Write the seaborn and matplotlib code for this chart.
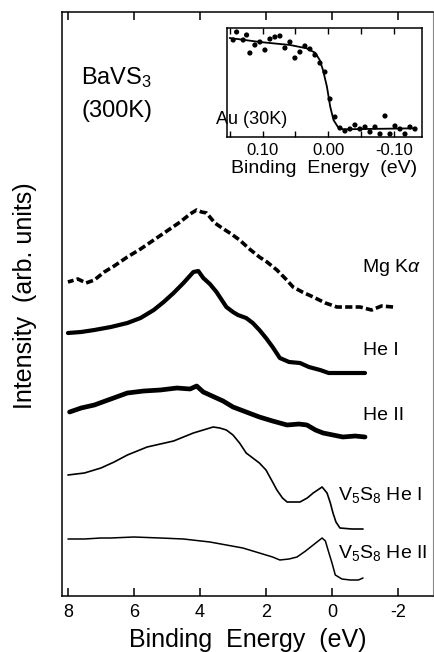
import numpy as np
import pandas as pd
import seaborn as sns
import matplotlib.pyplot as plt

sns.set_style("ticks")
plt.rcParams['font.family'] = ['Liberation Sans', 'DejaVu Sans']
plt.rcParams['mathtext.fontset'] = 'custom'
plt.rcParams['mathtext.rm'] = 'Liberation Sans'
plt.rcParams['mathtext.it'] = 'Liberation Sans:italic'
plt.rcParams['text.color'] = 'black'
plt.rcParams['axes.labelcolor'] = 'black'
plt.rcParams['xtick.color'] = 'black'
plt.rcParams['axes.edgecolor'] = 'black'

# spectra: binding energy (eV) and intensity (arb. units, offsets included)
mg_E = [8.0, 7.7, 7.45, 7.2, 6.9, 6.6, 6.2, 5.8, 5.4, 5.0, 4.6, 4.3, 4.1, 3.95, 3.8, 3.55,
        3.33, 3.05, 2.8, 2.5, 2.2, 1.97, 1.67, 1.4, 1.18, 0.9, 0.57, 0.2, -0.15, -0.5, -0.85,
        -1.2, -1.5, -1.85]
mg_I = [314, 317, 313, 316, 324, 330, 339, 347, 356, 365, 374, 382, 386, 384, 383, 373,
        368, 362, 356, 347, 339, 334, 326, 317, 309, 304, 299, 293, 289, 289, 289,
        286, 290, 289]

he1_E = [8.0, 7.6, 7.2, 6.7, 6.2, 5.8, 5.4, 5.1, 4.8, 4.5, 4.2, 4.05, 3.9, 3.7, 3.5, 3.2,
         3.0, 2.85, 2.6, 2.4, 2.2, 2.0, 1.8, 1.58, 1.3, 0.97, 0.7, 0.36, 0.1, -0.3, -0.65, -1.0]
he1_I = [263, 264, 266, 269, 273, 278, 286, 294, 303, 313, 324, 325, 318, 312, 304, 289,
         284, 281, 278, 273, 266, 258, 249, 238, 234, 233, 229, 226, 223, 223, 223, 223]

he2_E = [7.95, 7.6, 7.2, 6.7, 6.2, 5.7, 5.2, 4.7, 4.3, 4.1, 3.9, 3.7, 3.3, 3.0, 2.6, 2.2,
         1.8, 1.36, 1.0, 0.76, 0.5, 0.27, -0.33, -0.7, -1.0]
he2_I = [184, 188, 191, 197, 203, 205, 206, 208, 207, 210, 204, 201, 195, 189, 184, 179,
         175, 171, 172, 171, 166, 163, 159, 160, 159]

v1_E = [8.0, 7.5, 7.0, 6.6, 6.2, 5.6, 4.8, 4.2, 3.6, 3.4, 3.2, 3.0, 2.8, 2.6, 2.4, 2.2,
        2.0, 1.8, 1.67, 1.5, 1.36, 1.1, 0.97, 0.75, 0.57, 0.3, 0.15, 0.05, -0.03, -0.12,
        -0.24, -0.6, -0.94]
v1_I = [121, 123, 128, 134, 141, 149, 155, 163, 169, 168, 166, 161, 153, 143, 138, 133,
        126, 114, 106, 98, 94, 94, 94, 98, 103, 109, 103, 93, 83, 74, 68, 67, 67]

v2_E = [8.0, 7.5, 7.0, 6.7, 6.0, 5.2, 4.5, 3.7, 3.2, 2.7, 2.2, 1.8, 1.58, 1.3, 1.06, 0.8,
        0.57, 0.3, 0.2, 0.12, 0.0, -0.1, -0.3, -0.55, -0.8, -0.94]
v2_I = [57, 57, 58, 58, 59, 58, 57, 54, 51, 48, 43, 39, 36, 37, 39, 45,
        51, 58, 55, 46, 33, 21, 17, 16, 16, 18]

# inset: Au (30K) Fermi edge
au_E = [0.1446, 0.1394, 0.1294, 0.1242, 0.1192, 0.1116, 0.1040, 0.0963, 0.0887, 0.0811,
        0.0735, 0.0659, 0.0583, 0.0507, 0.0431, 0.0355, 0.0279, 0.0202, 0.0126, 0.0050,
        -0.0026, -0.0102, -0.0178, -0.0254, -0.0330, -0.0406, -0.0482, -0.0559, -0.0635,
        -0.0711, -0.0787, -0.0863, -0.0939, -0.1015, -0.1091, -0.1167, -0.1243, -0.1320]
au_I = [97, 105, 97, 102, 84, 92, 95, 87, 98, 100, 101, 89, 95, 79, 85, 91, 88, 82, 74, 65,
        38, 20, 9, 6, 8, 12, 8, 10, 5, 10, 3, 21, 3, 11, 8, 3, 10, 8]
fit_E = [0.150, 0.104, 0.058, 0.033, 0.020, 0.013, 0.008, 0.002, -0.003, -0.008, -0.015,
         -0.023, -0.132]
fit_I = [99, 95, 92, 88.7, 84.3, 77, 67, 50.3, 30.3, 17, 9.7, 7.7, 8.7]

fig = plt.figure(figsize=(4.34, 6.52), dpi=100)
ax = fig.add_axes([62/434, 1-596/652, 371/434, 584/652])

sns.lineplot(x=mg_E, y=mg_I, ax=ax, color='black', lw=2.6, estimator=None)
ax.lines[-1].set_dashes((2, 0.9))
sns.lineplot(x=he1_E, y=he1_I, ax=ax, color='black', lw=3.0, estimator=None)
sns.lineplot(x=he2_E, y=he2_I, ax=ax, color='black', lw=3.4, estimator=None)
sns.lineplot(x=v1_E, y=v1_I, ax=ax, color='black', lw=1.2, estimator=None)
sns.lineplot(x=v2_E, y=v2_I, ax=ax, color='black', lw=1.1, estimator=None)

ax.set_xlim(8.18, -3.06)
ax.set_ylim(0, 584)
ax.set_xticks([8, 6, 4, 2, 0, -2])
ax.set_xticklabels(['8', '6', '4', '2', '0', '-2'])
ax.set_yticks([])
ax.tick_params(axis='x', direction='in', top=True, length=6, width=1.1, labelsize=13, pad=6)
for s in ['left', 'bottom', 'top']:
    ax.spines[s].set_linewidth(1.1)
ax.spines['right'].set_linewidth(0.8)
ax.spines['right'].set_color('#888888')
ax.set_xlabel('Binding  Energy  (eV)', fontsize=18, labelpad=5)
ax.set_ylabel('Intensity  (arb. units)', fontsize=18)
ax.yaxis.set_label_coords(-0.067, 0.514)

ax.text(7.6, 518, 'BaVS$_3$', fontsize=17, va='center')
ax.text(7.6, 485, '(300K)', fontsize=17, va='center')
ax.text(-0.91, 329, 'Mg K$\\alpha$', fontsize=14, va='center')
ax.text(-0.94, 246, 'He I', fontsize=14, va='center')
ax.text(-0.94, 181, 'He II', fontsize=14, va='center')
ax.text(-0.18, 101, 'V$_5$S$_8$ He I', fontsize=14, va='center')
ax.text(-0.18, 43, 'V$_5$S$_8$ He II', fontsize=14, va='center')

# inset
ins = fig.add_axes([227/434, 1-137/652, 195/434, 109/652])
sns.scatterplot(x=au_E, y=au_I, ax=ins, color='black', s=14, edgecolor='none')
sns.lineplot(x=fit_E, y=fit_I, ax=ins, color='black', lw=1.3, estimator=None)
ins.set_xlim(0.154, -0.1426)
ins.set_ylim(0, 109)
ins.set_xticks([0.10, 0.0, -0.10])
ins.set_xticklabels(['0.10', '0.00', '-0.10'])
ins.set_xticks([0.15, 0.05, -0.05], minor=True)
ins.set_yticks([])
ins.tick_params(axis='x', which='both', direction='in', top=True, length=4, width=1.0,
                labelsize=12, pad=4)
for s in ins.spines.values():
    s.set_linewidth(1.1)
ins.set_xlabel('Binding  Energy  (eV)', fontsize=14, labelpad=2)
ins.text(0.171, 17, 'Au (30K)', fontsize=13, va='center', zorder=5)

fig.savefig('out.png', dpi=100)
